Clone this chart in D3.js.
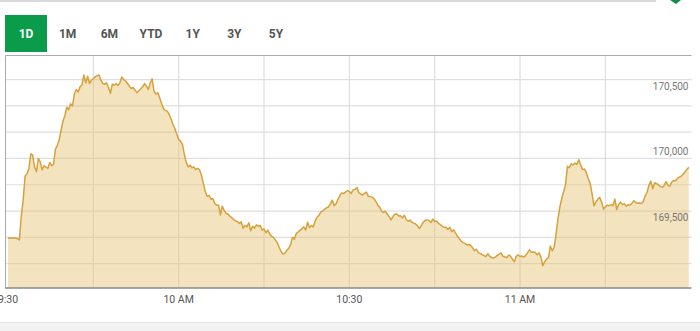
<!DOCTYPE html>
<html>
<head>
<script src="https://cdn.jsdelivr.net/npm/d3@7"></script>
<style>
  body { margin: 0; background: #fff; }
  svg { font-family: Roboto, "Noto Sans", sans-serif; display: block; }
  .tab { font-size: 12px; font-weight: 700; fill: #555; }
  .tab.active { fill: #fff; }
  .ylab { font-size: 10px; fill: #777; }
  .xlab { font-size: 10.5px; fill: #555; }
</style>
</head>
<body>
<script>
// range buttons
var tabLabels = ["1D", "1M", "6M", "YTD", "1Y", "3Y", "5Y"];

// intraday session, one price every 20 seconds from 9:30
var sessionStart = "09:30", sessionEnd = "11:30";
var stepSeconds = 20;
var prices = [
  169395,169395,169395,169395,169395,169390,169380,169560,169685,169865,
  169885,169920,170035,170025,169935,169900,170000,169975,169915,169945,
  169935,169924,169970,169945,169955,170070,170100,170140,170215,170285,
  170325,170390,170370,170415,170400,170490,170525,170505,170545,170560,
  170635,170575,170625,170570,170595,170608,170620,170630,170635,170595,
  170570,170565,170575,170540,170495,170565,170557,170570,170555,170575,
  170620,170600,170590,170570,170549,170532,170540,170520,170500,170515,
  170530,170545,170570,170550,170524,170575,170605,170510,170490,170500,
  170460,170418,170378,170365,170360,170335,170300,170258,170228,170185,
  170145,170132,170105,170030,169970,169936,169948,169930,169935,169915,
  169925,169915,169875,169810,169750,169712,169720,169690,169695,169660,
  169645,169645,169570,169637,169605,169582,169578,169561,169550,169535,
  169526,169520,169506,169518,169470,169490,169480,169511,169450,169485,
  169470,169495,169485,169490,169455,169465,169435,169455,169425,169408,
  169400,169379,169360,169325,169293,169273,169280,169300,169315,169345,
  169400,169385,169430,169440,169455,169465,169480,169455,169515,169475,
  169490,169480,169525,169553,169569,169594,169600,169615,169625,169632,
  169655,169683,169640,169655,169690,169718,169738,169734,169745,169755,
  169748,169734,169762,169765,169780,169740,169730,169722,169735,169744,
  169713,169710,169706,169695,169673,169645,169630,169600,169590,169600,
  169575,169558,169533,169558,169575,169578,169562,169565,169548,169568,
  169536,169522,169532,169515,169508,169502,169487,169468,169490,169515,
  169530,169533,169528,169513,169538,169520,169525,169506,169498,169485,
  169475,169478,169460,169477,169443,169458,169432,169410,169390,169369,
  169360,169354,169342,169346,169338,169321,169298,169310,169283,169278,
  169268,169262,169253,169276,169255,169247,169242,169250,169263,169272,
  169282,169256,169252,169245,169265,169258,169235,169215,169256,169268,
  169255,169258,169250,169263,169284,169305,169286,169288,169286,169268,
  169282,169252,169185,169215,169235,169248,169335,169298,169325,169420,
  169540,169630,169695,169745,169800,169940,169930,169960,169950,169965,
  169955,169990,169950,169915,169920,169890,169845,169810,169730,169640,
  169670,169690,169705,169670,169615,169632,169645,169640,169650,169640,
  169690,169612,169650,169668,169650,169655,169637,169650,169645,169660,
  169678,169665,169660,169662,169658,169672,169716,169743,169797,169828,
  169770,169815,169808,169800,169786,169780,169795,169825,169795,169790,
  169820,169832,169830,169850,169858,169866,169880,169898,169918,169932
];

// axis values
var priceDomain = [169015, 170783];
var priceGrid = [169200, 169400, 169600, 169800, 170000, 170200, 170400, 170600];
var priceLabels = [169500, 170000, 170500];
var timeGrid = ["09:45", "10:00", "10:15", "10:30", "10:45", "11:00", "11:15"];
var timeLabels = ["09:30", "10:00", "10:30", "11:00"];

var width = 700, height = 331;
var plot = {left: 5.5, right: 691.5, top: 55.5, bottom: 288};

var parseTime = d3.timeParse("%H:%M");
var t0 = parseTime(sessionStart);
var data = prices.map(function(p, i) {
  return {t: d3.timeSecond.offset(t0, i * stepSeconds), v: p};
});

var svg = d3.select("body").append("svg")
    .attr("width", width)
    .attr("height", height);

// page chrome
svg.append("line")
    .attr("x1", 0).attr("x2", 656).attr("y1", 1).attr("y2", 1)
    .style("stroke", "#d9d9d9").style("stroke-width", 2);
svg.append("path")
    .attr("d", "M670,0 L681,0 L676,4 Z")
    .style("fill", "#0d8f45");
svg.append("rect")
    .attr("x", 0).attr("y", 322.5).attr("width", width).attr("height", 9)
    .style("fill", "#f2f2f2");
svg.append("line")
    .attr("x1", 0).attr("x2", width).attr("y1", 322.5).attr("y2", 322.5)
    .style("stroke", "#e3e3e3");

// tabs
var tabX = d3.scalePoint().domain(tabLabels).range([26, 276]);
svg.append("rect")
    .attr("x", tabX(tabLabels[0]) - 21).attr("y", 15)
    .attr("width", 42).attr("height", 37)
    .style("fill", "#0a9c4a");
svg.selectAll(".tab")
    .data(tabLabels)
  .enter().append("text")
    .attr("class", function(d, i) { return i === 0 ? "tab active" : "tab"; })
    .attr("x", function(d) { return tabX(d); })
    .attr("y", 38)
    .attr("text-anchor", "middle")
    .text(function(d) { return d; });

// scales
var x = d3.scaleTime()
    .domain([parseTime(sessionStart), parseTime(sessionEnd)])
    .range([8, 690.7]);
var y = d3.scaleLinear()
    .domain(priceDomain)
    .range([plot.bottom, plot.top]);

// grid
var grid = svg.append("g");
grid.selectAll(".hgrid")
    .data(priceGrid)
  .enter().append("line")
    .attr("x1", plot.left).attr("x2", plot.right)
    .attr("y1", function(d) { return y(d); })
    .attr("y2", function(d) { return y(d); })
    .style("stroke", "#dedede").style("stroke-width", 1.2);
grid.selectAll(".vgrid")
    .data(timeGrid)
  .enter().append("line")
    .attr("x1", function(d) { return x(parseTime(d)); })
    .attr("x2", function(d) { return x(parseTime(d)); })
    .attr("y1", plot.top).attr("y2", plot.bottom)
    .style("stroke", "#dedede").style("stroke-width", 1.2);

// area + line
var area = d3.area()
    .x(function(d) { return x(d.t); })
    .y0(plot.bottom)
    .y1(function(d) { return y(d.v); });
var line = d3.line()
    .x(function(d) { return x(d.t); })
    .y(function(d) { return y(d.v); });

svg.append("path")
    .datum(data)
    .attr("d", area)
    .style("fill", "#e6c272")
    .style("fill-opacity", 0.45);
svg.append("path")
    .datum(data)
    .attr("d", line)
    .style("fill", "none")
    .style("stroke", "#d6a23c")
    .style("stroke-width", 1.5)
    .style("stroke-linejoin", "round");

// frame
svg.append("line")
    .attr("x1", plot.left).attr("x2", plot.right)
    .attr("y1", plot.top).attr("y2", plot.top)
    .style("stroke", "#aaa");
svg.append("line")
    .attr("x1", plot.left).attr("x2", plot.left)
    .attr("y1", plot.top).attr("y2", plot.bottom)
    .style("stroke", "#aaa");
svg.append("line")
    .attr("x1", plot.left - 0.5).attr("x2", plot.right)
    .attr("y1", plot.bottom).attr("y2", plot.bottom)
    .style("stroke", "#8a8a8a").style("stroke-width", 1.5);

// price labels
svg.selectAll(".ylab")
    .data(priceLabels)
  .enter().append("text")
    .attr("class", "ylab")
    .attr("x", 688.5)
    .attr("y", function(d) { return y(d) - 3; })
    .attr("text-anchor", "end")
    .text(d3.format(","));

// time labels
var fmtTime = function(s) {
  var d = parseTime(s);
  return d.getMinutes() === 0 ? d3.timeFormat("%-I %p")(d) : d3.timeFormat("%-I:%M")(d);
};
svg.selectAll(".xlab")
    .data(timeLabels)
  .enter().append("text")
    .attr("class", "xlab")
    .attr("x", function(d) { return x(parseTime(d)); })
    .attr("y", 303)
    .attr("text-anchor", "middle")
    .text(fmtTime);
</script>
</body>
</html>
